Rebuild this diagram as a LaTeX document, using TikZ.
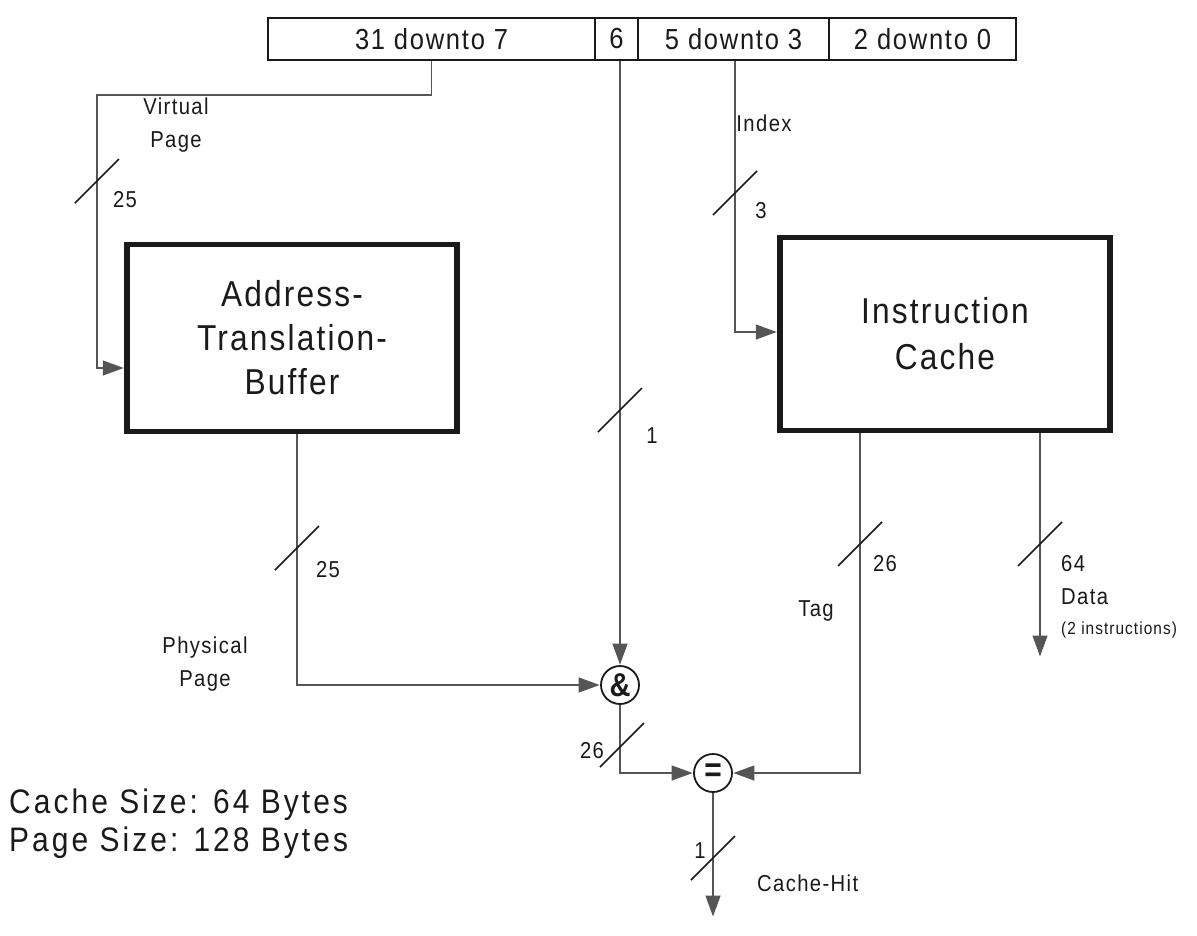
\documentclass[tikz,border=0pt]{standalone}
\usepackage{fontspec}
\setmainfont{Liberation Sans}[LetterSpace=6, FakeStretch=0.88]
\newfontfamily\sizefont{Liberation Sans}[LetterSpace=9, FakeStretch=0.88]
\usetikzlibrary{arrows.meta}
\definecolor{ink}{HTML}{1A1A1A}
\definecolor{wire}{HTML}{555555}
\tikzset{
  reg/.style={draw=ink, line width=1.6pt, minimum height=42pt, inner sep=0pt, text=ink, font=\fontsize{29}{32}\selectfont},
  bigbox/.style={draw=ink, line width=5.5pt, inner sep=0pt, align=center, text=ink},
  opcirc/.style={circle, draw=ink, line width=1.8pt, minimum size=38pt, inner sep=0pt, text=ink},
  lbl/.style={text=ink, inner sep=0pt, font=\fontsize{23}{33}\selectfont, align=center},
  wireline/.style={draw=wire, line width=1.3pt},
  arr/.style={wireline, -{Triangle[length=21pt,width=15pt]}, shorten >=0.5pt},
  buswidth/.pic={\draw[ink, line width=1.7pt] (-22,22) -- (22,-22);}
}
\begin{document}
\begin{tikzpicture}[x=1pt,y=-1pt]
\useasboundingbox[fill=white] (0,0) rectangle (1197,935);

% address register
\node[reg, minimum width=327pt] (r1) at (431.5,39) {31 downto 7};
\node[reg, minimum width=43pt]  (r2) at (616.5,39) {6};
\node[reg, minimum width=191pt] (r3) at (733.5,39) {5 downto 3};
\node[reg, minimum width=187pt] (r4) at (922.5,39) {2 downto 0};

% main blocks
\node[bigbox, minimum width=330pt, minimum height=187pt, font=\fontsize{36}{44}\selectfont] (atb) at (292,338) {Address-\\Translation-\\Buffer};
\node[bigbox, minimum width=330pt, minimum height=193pt, font=\fontsize{36}{46}\selectfont] (ic) at (945,334) {Instruction\\Cache};

% operators
\node[opcirc, font=\fontsize{33}{33}\bfseries] (amp) at (620,685) {\&};
\node[opcirc, font=\fontsize{34}{34}\bfseries] (eq) at (713,773) {=};

% free ends / bends
\coordinate (vbend) at (97,95);
\coordinate (dataend) at (1040,657);
\coordinate (hitend) at (713,917);

% connectors
\draw[arr] (r1.south) |- (vbend) |- ([yshift=-30pt]atb.west);
\draw[arr] (amp.north |- r2.south) -- (amp.north);
\draw[arr] ([xshift=1.5pt]r3.south) |- ([yshift=2pt]ic.west);
\draw[arr] ([xshift=5pt]atb.south) |- (amp.west);
\draw[arr] (amp.south) |- (eq.west);
\draw[arr] ([xshift=-85pt]ic.south) |- (eq.east);
\draw[arr] (ic.south -| dataend) -- (dataend);
\draw[arr] (eq.south) -- (hitend);

% bus width marks
\pic at (97,181) {buswidth};
\pic at (620,410) {buswidth};
\pic at (735,193) {buswidth};
\pic at (297,548) {buswidth};
\pic at (622,745) {buswidth};
\pic at (860,544) {buswidth};
\pic at (1040,544) {buswidth};
\pic at (713,858) {buswidth};

% labels
\node[lbl] (lvp) at (176,125) {Virtual\\Page};
\node[lbl] (lvpw) at (125,200) {25};
\node[lbl] (l6w) at (652,436) {1};
\node[lbl] (lidx) at (764,123) {Index};
\node[lbl] (lidxw) at (761,211) {3};
\node[lbl] (latbw) at (328,570) {25};
\node[lbl] (lpp) at (205,664) {Physical\\Page};
\node[lbl] (lampw) at (592,751) {26};
\node[lbl] (ltagw) at (885,564) {26};
\node[lbl] (ltag) at (816,611) {Tag};
\node[lbl, anchor=west] (ldw) at (1061,564) {64};
\node[lbl, anchor=west] (ld) at (1061,597) {Data};
\node[lbl, anchor=west, font=\fontsize{17.5}{20}\selectfont] (ldi) at (1061,630) {(2 instructions)};
\node[lbl] (lhitw) at (700,851) {1};
\node[lbl, anchor=west] (lhit) at (757,883) {Cache-Hit};

\node[lbl, anchor=west, font=\sizefont\fontsize{34}{38}\selectfont, align=left] (lsize) at (9,824) {Cache Size: 64 Bytes\\Page Size: 128 Bytes};
\end{tikzpicture}
\end{document}
